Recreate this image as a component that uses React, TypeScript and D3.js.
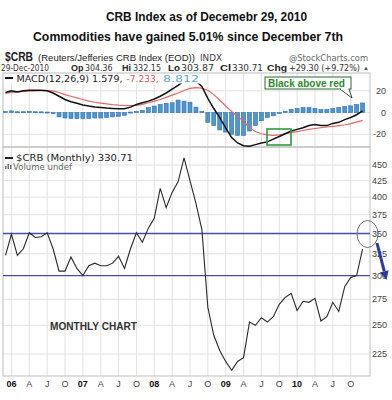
import React from 'react';
import * as d3 from 'd3';

// monthly closes, Dec 2005 .. Dec 2010
const closes = [
  323, 349, 323, 331, 351, 345, 346, 351, 331, 305,
  305, 321, 308, 300, 311, 314, 311, 311, 314, 322,
  308, 331, 351, 339, 357, 370, 413, 385, 407, 423,
  462, 425, 391, 355, 267, 241, 228, 219, 212, 219,
  222, 253, 250, 257, 253, 258, 270, 277, 281, 264,
  273, 272, 276, 254, 258, 272, 263, 288, 298, 300,
  330.71,
];

const macdLine = [
  18.5, 20, 19, 20, 20.5, 20.5, 20.5, 20, 18, 15,
  12, 10, 8.5, 7, 6, 5.2, 4.6, 4.1, 3.8, 3.4,
  3.5, 5, 7.5, 9, 10.5, 12.5, 15, 18, 21.5, 25,
  29, 31, 29, 24, 13, 3.7, -4.6, -14, -23, -28,
  -30.5, -31, -29.5, -28, -27, -24.5, -22, -19.5, -17, -15.5,
  -14, -12, -11, -12, -12, -10, -9, -6.5, -4.5, -2,
  1.579,
];

const signalLine = [
  17.7, 18.5, 19, 19.4, 19.8, 20, 20.2, 20.3, 20, 18.5,
  16.5, 15, 13.5, 12, 10.5, 9.5, 8.7, 8, 7.3, 6.8,
  6.5, 6.3, 6.5, 7.5, 9, 10.5, 12, 14, 16, 18,
  20.3, 22.3, 23, 22.5, 20.5, 16.5, 11.5, 6, 1, -3.5,
  -8, -14, -17.5, -19.5, -20.5, -21, -20.5, -19.5, -18.5, -17.5,
  -16.5, -15.5, -14.7, -14, -13.3, -12.7, -12, -11.2, -10.2, -8.8,
  -7.233,
];

const histogram = [
  0.5, 1.5, 0.3, 0.3, 1, 0.3, 0.2, -0.3, -1, -4,
  -5, -5.5, -5.5, -5.5, -5.5, -5, -5, -4.5, -4, -3.5,
  -2.5, -0.5, 0.5, 2, 4.5, 6, 7.5, 8.5, 9, 11.5,
  10.5, 9.5, 5, 0.5, -9, -12, -16, -18, -20, -21,
  -21, -17, -12, -7.5, -4.5, -3, -1, 1.2, 2.8, 3.7,
  4.6, 4.6, 3.7, 2.8, 2.8, 3.7, 4.6, 5.6, 6.2, 7.4,
  8.812,
];

const xTickLabels = ['06', 'A', 'J', 'O', '07', 'A', 'J', 'O', '08', 'A', 'J', 'O', '09', 'A', 'J', 'O', '10', 'A', 'J', 'O'];
const priceTicks = [225, 250, 275, 300, 325, 350, 375, 400, 425, 450];
const macdTicks = [-20, 0, 20];
const levelLines = [350, 300];

const SANS = "'Liberation Sans', Arial, sans-serif";
const VERD = "'DejaVu Sans', Verdana, sans-serif";

const left = 3;
const right = 370;
const macdTop = 73;
const macdBottom = 147;
const priceBottom = 376;

export default function App() {
  const x = d3.scaleLinear().domain([-0.42, 61.25]).range([left, right]);
  const yP = d3.scaleLog().domain([207.6, 480.7]).range([priceBottom, macdBottom]);
  const yM = d3.scaleLinear().domain([-31.7, 36.4]).range([macdBottom, macdTop]);

  const tickIdx = xTickLabels.map((_, k) => 1 + 3 * k);

  const priceLine = d3.line<number>().x((_, i) => x(i)).y(d => yP(d));
  const mLine = d3.line<number>().x((_, i) => x(i)).y(d => yM(d));

  const barW = 4;

  // arrow geometry (annotation)
  const a0 = [377, 243];
  const tip = [386.5, 280];
  const len = Math.hypot(tip[0] - a0[0], tip[1] - a0[1]);
  const ux = (tip[0] - a0[0]) / len;
  const uy = (tip[1] - a0[1]) / len;
  const bx = tip[0] - ux * 9;
  const by = tip[1] - uy * 9;
  const head = `${tip[0]},${tip[1]} ${bx + uy * 4.5},${by - ux * 4.5} ${bx - uy * 4.5},${by + ux * 4.5}`;

  return (
    <svg width={392} height={400} style={{ position: 'absolute', left: 0, top: 0, background: '#fff' }}>
      <defs>
        <clipPath id="macdClip">
          <rect x={left} y={macdTop} width={right - left} height={macdBottom - macdTop} />
        </clipPath>
        <clipPath id="priceClip">
          <rect x={left} y={macdBottom} width={right - left} height={priceBottom - macdBottom} />
        </clipPath>
      </defs>
      <rect x={0} y={0} width={392} height={400} fill="#fff" />

      {/* titles */}
      <text x={106} y={21} fontFamily={SANS} fontWeight="bold" fontSize={12} fill="#111" textLength={201} lengthAdjust="spacingAndGlyphs">
        CRB Index as of Decemebr 29, 2010
      </text>
      <text x={33} y={41} fontFamily={SANS} fontWeight="bold" fontSize={12} fill="#111" textLength={310} lengthAdjust="spacingAndGlyphs">
        Commodities have gained 5.01% since December 7th
      </text>

      {/* header */}
      <g fontFamily={SANS} fill="#222">
        <text x={5} y={61} fontWeight="bold" fontSize={12} textLength={28} lengthAdjust="spacingAndGlyphs">$CRB</text>
        <text x={38} y={61} fontSize={9} textLength={157} lengthAdjust="spacingAndGlyphs">(Reuters/Jefferies CRB Index (EOD))</text>
        <text x={200} y={61} fontSize={8} fontFamily={VERD} fill="#444" textLength={22} lengthAdjust="spacingAndGlyphs">INDX</text>
        <text x={289} y={61} fontSize={9} fontFamily={VERD} fill="#666" textLength={79} lengthAdjust="spacingAndGlyphs">@StockCharts.com</text>

        <text x={1} y={71} fontSize={8} fontFamily={VERD} fill="#333" textLength={48} lengthAdjust="spacingAndGlyphs">29-Dec-2010</text>
        <text x={71} y={71} fontSize={9.5} fontWeight="bold" textLength={12.5} lengthAdjust="spacingAndGlyphs">Op</text>
        <text x={85} y={71} fontSize={8} fontFamily={VERD} fill="#333" textLength={27.5} lengthAdjust="spacingAndGlyphs">304.36</text>
        <text x={122} y={71} fontSize={9.5} fontWeight="bold" textLength={9} lengthAdjust="spacingAndGlyphs">Hi</text>
        <text x={133} y={71} fontSize={8} fontFamily={VERD} fill="#333" textLength={28} lengthAdjust="spacingAndGlyphs">332.15</text>
        <text x={168} y={71} fontSize={9.5} fontWeight="bold" textLength={12} lengthAdjust="spacingAndGlyphs">Lo</text>
        <text x={181} y={71} fontSize={8} fontFamily={VERD} fill="#333" textLength={33} lengthAdjust="spacingAndGlyphs">303.87</text>
        <text x={220} y={71} fontSize={9.5} fontWeight="bold" textLength={11} lengthAdjust="spacingAndGlyphs">Cl</text>
        <text x={232} y={71} fontSize={8} fontFamily={VERD} fill="#333" textLength={31} lengthAdjust="spacingAndGlyphs">330.71</text>
        <text x={267} y={71} fontSize={9.5} fontWeight="bold" textLength={20} lengthAdjust="spacingAndGlyphs">Chg</text>
        <text x={289} y={71} fontSize={8} fontFamily={VERD} fill="#333" textLength={71} lengthAdjust="spacingAndGlyphs">+29.30 (+9.72%)</text>
        <text x={363} y={70} fontSize={6} fill="#555">▲</text>
      </g>

      {/* panel frames and grid */}
      <g stroke="#e2e2e2" strokeWidth={1}>
        {tickIdx.map(i => (
          <line key={'vg' + i} x1={x(i)} x2={x(i)} y1={macdTop} y2={priceBottom} />
        ))}
        {priceTicks.map(t => (
          <line key={'pg' + t} x1={left} x2={right} y1={yP(t)} y2={yP(t)} />
        ))}
        {macdTicks.map(t => (
          <line key={'mg' + t} x1={left} x2={right} y1={yM(t)} y2={yM(t)} />
        ))}
      </g>
      <rect x={left} y={macdTop} width={right - left} height={macdBottom - macdTop} fill="none" stroke="#bdbdbd" />
      <rect x={left} y={macdBottom} width={right - left} height={priceBottom - macdBottom} fill="none" stroke="#bdbdbd" />

      {/* MACD panel */}
      <g clipPath="url(#macdClip)">
        {histogram.map((v, i) => (
          <rect
            key={'h' + i}
            x={x(i) - barW / 2}
            y={Math.min(yM(v), yM(0)) - (Math.abs(v) < 0.6 ? 0.5 : 0)}
            width={barW}
            height={Math.max(1, Math.abs(yM(v) - yM(0)))}
            fill="#4f95cf"
            stroke="#2f6ea6"
            strokeWidth={0.6}
          />
        ))}
        <path d={mLine(signalLine) || ''} fill="none" stroke="#e06868" strokeWidth={1.2} />
        <path d={mLine(macdLine) || ''} fill="none" stroke="#111" strokeWidth={1.5} />
      </g>
      <rect x={4} y={74} width={200} height={9.5} fill="#fff" />
      <line x1={5} x2={13} y1={78} y2={78} stroke="#111" strokeWidth={2} />
      <g fontFamily={VERD} fontSize={9}>
        <text x={16.5} y={82} fill="#222" textLength={106} lengthAdjust="spacingAndGlyphs">MACD(12,26,9) 1.579,</text>
        <text x={126.5} y={82} fill="#d05a5a" textLength={32} lengthAdjust="spacingAndGlyphs">-7.233,</text>
        <text x={163} y={82} fill="#6aa6cf" textLength={36} lengthAdjust="spacingAndGlyphs">8.812</text>
      </g>
      <g fontFamily={SANS} fontSize={9} fill="#444" textAnchor="end">
        {macdTicks.map(t => (
          <text key={'ml' + t} x={386} y={yM(t) + 3}>{t}</text>
        ))}
      </g>

      {/* price panel */}
      <g clipPath="url(#priceClip)">
        {levelLines.map(v => (
          <line key={'lv' + v} x1={left} x2={right} y1={yP(v)} y2={yP(v)} stroke="#4b4ba8" strokeWidth={1.4} />
        ))}
        <path d={priceLine(closes) || ''} fill="none" stroke="#2a2a2a" strokeWidth={1.1} />
      </g>
      <line x1={5} x2={13} y1={158} y2={158} stroke="#222" strokeWidth={2} />
      <text x={16} y={161} fontFamily={VERD} fontSize={9} fill="#222" textLength={117} lengthAdjust="spacingAndGlyphs">$CRB (Monthly) 330.71</text>
      <g fill="#777">
        <rect x={5} y={166} width={1.5} height={3} />
        <rect x={7.5} y={164} width={1.5} height={5} />
        <rect x={10} y={165} width={1.5} height={4} />
      </g>
      <text x={13} y={169.5} fontFamily={VERD} fontSize={8.5} fill="#666" textLength={59} lengthAdjust="spacingAndGlyphs">Volume undef</text>

      <g fontFamily={SANS} fontSize={9} fill="#444" textAnchor="end">
        {priceTicks.map(t => (
          <text key={'pl' + t} x={387} y={yP(t) + 3}>{t}</text>
        ))}
      </g>

      <g fontFamily={SANS} fontSize={9} fill="#333" textAnchor="middle">
        {xTickLabels.map((l, k) => (
          <text key={'xl' + k} x={x(tickIdx[k])} y={387} fontWeight={/\d/.test(l) ? 'bold' : 'normal'} fill={/\d/.test(l) ? '#111' : '#444'}>{l}</text>
        ))}
      </g>

      <text x={50} y={330} fontFamily={SANS} fontWeight="bold" fontSize={10.5} fill="#333" textLength={87} lengthAdjust="spacingAndGlyphs">MONTHLY CHART</text>

      {/* annotations */}
      <rect x={267} y={129} width={24} height={16} fill="none" stroke="#2f9a3a" strokeWidth={1.6} />
      <polygon points="340,89 352,98 349,89" fill="#fff" stroke="#3a4a3a" strokeWidth={1} />
      <rect x={265} y={77} width={86} height={12} fill="#fff" stroke="#2f6a2f" strokeWidth={1} />
      <rect x={341} y={88} width={7.5} height={2} fill="#fff" />
      <text x={268} y={86.8} fontFamily={SANS} fontWeight="bold" fontSize={10} fill="#2c8a2c" textLength={77} lengthAdjust="spacingAndGlyphs">Black above red</text>

      <ellipse cx={367.5} cy={234} rx={10.5} ry={13.5} fill="none" stroke="#6a7090" strokeWidth={1} />
      <line x1={a0[0]} y1={a0[1]} x2={bx} y2={by} stroke="#2b3a9c" strokeWidth={3} />
      <polygon points={head} fill="#2b3a9c" />
    </svg>
  );
}
